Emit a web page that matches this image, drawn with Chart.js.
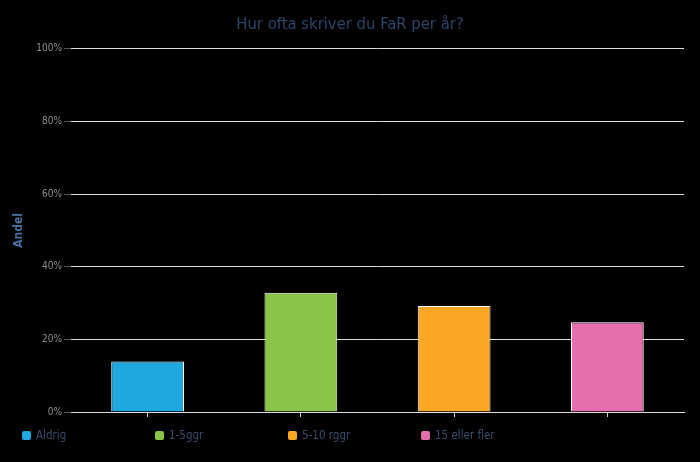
<!DOCTYPE html>
<html>
<head>
<meta charset="utf-8">
<script src="https://cdn.jsdelivr.net/npm/chart.js@4/dist/chart.umd.min.js"></script>
<style>
  html, body { margin: 0; padding: 0; background: #000; }
  #wrap { position: relative; width: 700px; height: 462px; }
  #legend { position: absolute; left: 22px; top: 428px; display: flex; font: 11.5px 'DejaVu Sans Condensed', 'DejaVu Sans', sans-serif; color: #3b4c6b; }
  #legend .item { width: 133px; display: flex; align-items: center; height: 14px; }
  #legend .box { width: 9px; height: 9px; border-radius: 2px; margin-right: 5px; }
</style>
</head>
<body>
<div id="wrap">
  <canvas id="myChart" width="700" height="462"></canvas>
  <div id="legend"></div>
</div>
<script>
const categories = ['Aldrig', '1-5ggr', '5-10 rggr', '15 eller fler'];
const values = [13.9, 32.8, 29.2, 24.7];
const colors = ['#1fa8e0', '#8bc548', '#fba726', '#e56fae'];

Chart.defaults.font.family = "'DejaVu Sans Condensed', 'DejaVu Sans', sans-serif";

var chartArea = document.getElementById('myChart').getContext('2d');
var myChart = new Chart(chartArea, {
    type: 'bar',
    data: {
        labels: categories,
        datasets: [{
            label: 'Andel',
            data: values,
            backgroundColor: colors,
            borderColor: '#ffffff',
            borderWidth: 1,
            barPercentage: 0.475,
            categoryPercentage: 1
        }]
    },
    options: {
      responsive: false,
      animation: false,
      layout: { padding: 0 },
      plugins: {
          legend: { display: false },
          tooltip: { enabled: false },
          title: {
            display: true,
            text: 'Hur ofta skriver du FaR per år?',
            color: '#2c4468',
            font: { size: 16.5, weight: 'normal' },
            padding: { top: 15, bottom: 14 }
          }
      },
      scales: {
          x: {
              grid: { drawOnChartArea: false, offset: false, tickLength: 5, color: '#cccccc' },
              border: { color: '#dddddd' },
              ticks: { display: false },
              afterFit: (scale) => { scale.height = 50; }
          },
          y: {
              min: 0,
              max: 100,
              grid: { color: '#dddddd', tickLength: 7, tickColor: '#555555' },
              border: { display: false },
              ticks: {
                stepSize: 20,
                color: '#8c8c8c',
                padding: 2,
                font: { size: 10 },
                callback: (value) => value + '%'
              },
              title: {
                display: true,
                text: 'Andel',
                color: '#4a70a4',
                font: { size: 12, weight: 'bold' },
                padding: { top: 12, bottom: 0 }
              },
              afterFit: (scale) => { scale.width = 71; }
          },
          // empty right axis, only keeps a margin so the title stays centred
          yRight: {
              position: 'right',
              min: 0,
              max: 100,
              grid: { display: false },
              border: { display: false },
              ticks: { display: false },
              afterFit: (scale) => { scale.width = 16; }
          }
      }
    }
});

const legendBox = document.getElementById('legend');
categories.forEach((name, i) => {
  const item = document.createElement('div');
  item.className = 'item';
  const box = document.createElement('span');
  box.className = 'box';
  box.style.background = colors[i];
  const txt = document.createElement('span');
  txt.textContent = name;
  item.appendChild(box);
  item.appendChild(txt);
  legendBox.appendChild(item);
});
</script>
</body>
</html>
